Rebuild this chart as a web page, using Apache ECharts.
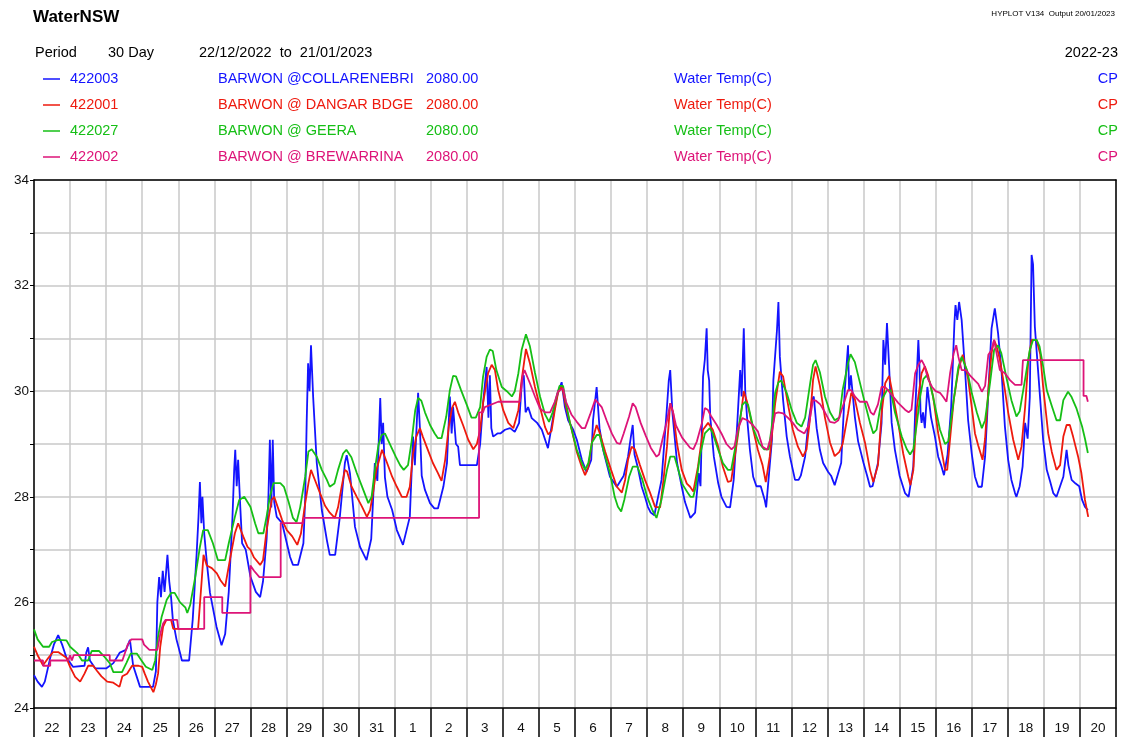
<!DOCTYPE html>
<html>
<head>
<meta charset="utf-8">
<script src="https://cdn.jsdelivr.net/npm/echarts@6/dist/echarts.min.js"></script>
<style>
html,body{margin:0;padding:0;background:#fff;}
#chart{width:1130px;height:737px;}
</style>
</head>
<body>
<div id="chart"></div>
<script>
// ---------- DATA ----------
// x = days since 22/12/2022 00:00, y = water temperature (C)
const dayLabels = ['22','23','24','25','26','27','28','29','30','31','1','2','3','4','5','6','7','8','9','10','11','12','13','14','15','16','17','18','19','20'];
const yTickLabels = [24, 26, 28, 30, 32, 34];

const stationCodes = ['422003', '422001', '422027', '422002'];
const stationNames = ['BARWON @COLLARENEBRI', 'BARWON @ DANGAR BDGE', 'BARWON @ GEERA', 'BARWON @ BREWARRINA'];
const stationDatum = ['2080.00', '2080.00', '2080.00', '2080.00'];
const stationVar = ['Water Temp(C)', 'Water Temp(C)', 'Water Temp(C)', 'Water Temp(C)'];
const stationQual = ['CP', 'CP', 'CP', 'CP'];

const collarenebri = [[0,24.62],[0.1,24.5],[0.22,24.4],[0.3,24.5],[0.45,24.95],[0.55,25.2],[0.67,25.38],[0.78,25.2],[0.9,24.95],[1.08,24.78],[1.4,24.8],[1.45,25.05],[1.5,25.15],[1.55,24.9],[1.7,24.75],[2.0,24.75],[2.2,24.85],[2.38,25.05],[2.55,25.1],[2.66,25.29],[2.75,24.8],[2.94,24.4],[3.3,24.4],[3.38,24.7],[3.42,26.0],[3.47,26.48],[3.52,26.1],[3.57,26.6],[3.62,26.2],[3.7,26.9],[3.75,26.4],[3.8,26.1],[3.85,25.67],[3.95,25.3],[4.05,25.04],[4.1,24.9],[4.3,24.9],[4.4,25.67],[4.51,26.93],[4.56,27.6],[4.6,28.28],[4.64,27.5],[4.67,28.0],[4.72,27.3],[4.8,26.7],[4.88,26.18],[5.06,25.54],[5.2,25.19],[5.3,25.4],[5.4,26.2],[5.5,27.56],[5.55,28.5],[5.58,28.89],[5.62,28.2],[5.66,28.7],[5.72,27.8],[5.77,27.12],[5.87,27.0],[6.0,26.49],[6.15,26.2],[6.27,26.1],[6.35,26.4],[6.45,27.2],[6.5,28.0],[6.54,29.08],[6.58,27.8],[6.62,29.08],[6.66,27.9],[6.73,27.62],[6.88,27.5],[7.1,26.86],[7.18,26.71],[7.32,26.71],[7.47,27.12],[7.52,28.0],[7.56,29.4],[7.6,30.53],[7.64,30.0],[7.68,30.87],[7.74,29.89],[7.84,28.64],[7.98,27.75],[8.12,27.18],[8.2,26.9],[8.35,26.9],[8.48,27.62],[8.62,28.64],[8.67,28.79],[8.76,28.45],[8.9,27.43],[9.04,27.05],[9.22,26.8],[9.35,27.2],[9.45,28.64],[9.52,28.3],[9.6,29.87],[9.64,29.0],[9.68,29.4],[9.73,28.37],[9.8,28.0],[9.93,27.75],[10.06,27.37],[10.23,27.09],[10.42,27.62],[10.51,29.14],[10.56,28.6],[10.65,29.97],[10.7,29.3],[10.75,28.4],[10.84,28.13],[10.98,27.88],[11.1,27.78],[11.2,27.78],[11.35,28.19],[11.45,28.64],[11.53,29.9],[11.58,29.2],[11.62,29.7],[11.7,29.0],[11.76,28.95],[11.81,28.6],[12.28,28.6],[12.37,29.0],[12.45,29.77],[12.55,30.46],[12.6,29.5],[12.64,30.3],[12.68,29.3],[12.73,29.14],[12.85,29.2],[12.93,29.2],[13.06,29.27],[13.2,29.3],[13.33,29.23],[13.45,29.4],[13.53,30.21],[13.58,30.3],[13.63,29.6],[13.7,29.7],[13.8,29.49],[13.95,29.4],[14.08,29.27],[14.25,28.92],[14.3,28.9],[14.44,29.7],[14.53,29.99],[14.63,30.17],[14.72,29.7],[14.81,29.45],[14.95,29.27],[15.05,29.08],[15.19,28.7],[15.32,28.47],[15.45,28.7],[15.5,29.45],[15.6,30.08],[15.68,29.3],[15.78,28.89],[15.97,28.38],[16.16,28.19],[16.35,28.4],[16.47,28.76],[16.55,29.14],[16.6,29.36],[16.65,28.8],[16.74,28.56],[16.85,28.19],[16.94,28.0],[17.02,27.81],[17.1,27.7],[17.2,27.65],[17.4,28.32],[17.55,29.7],[17.6,30.2],[17.64,30.4],[17.7,29.6],[17.83,28.64],[17.96,28.19],[18.05,27.9],[18.2,27.6],[18.33,27.7],[18.43,28.45],[18.48,28.2],[18.55,30.27],[18.6,30.6],[18.65,31.19],[18.68,30.4],[18.72,30.2],[18.75,29.51],[18.85,28.76],[18.97,28.26],[19.06,28.0],[19.2,27.81],[19.3,27.8],[19.4,28.32],[19.5,29.4],[19.58,30.4],[19.62,29.9],[19.68,31.19],[19.72,30.0],[19.77,29.51],[19.85,28.89],[19.94,28.38],[20.03,28.2],[20.15,28.2],[20.26,27.94],[20.3,27.8],[20.46,29.08],[20.5,30.21],[20.6,31.16],[20.64,31.69],[20.68,30.65],[20.77,29.83],[20.87,29.14],[20.96,28.76],[21.1,28.32],[21.2,28.32],[21.26,28.4],[21.38,28.76],[21.47,29.4],[21.57,29.83],[21.62,29.9],[21.7,29.3],[21.79,28.89],[21.88,28.64],[22.02,28.47],[22.1,28.4],[22.2,28.22],[22.25,28.2],[22.38,28.64],[22.48,30.02],[22.57,30.87],[22.6,30.0],[22.65,30.3],[22.76,29.51],[22.85,29.05],[23.0,28.64],[23.1,28.4],[23.18,28.19],[23.25,28.2],[23.4,28.64],[23.5,29.4],[23.55,30.97],[23.6,30.5],[23.65,31.29],[23.7,30.6],[23.78,29.4],[23.87,28.89],[24.0,28.4],[24.15,28.07],[24.25,28.0],[24.38,28.57],[24.43,29.58],[24.52,30.97],[24.55,30.5],[24.58,29.6],[24.61,29.4],[24.65,29.6],[24.7,29.3],[24.77,30.08],[24.87,29.51],[24.98,29.14],[25.07,28.76],[25.15,28.6],[25.23,28.41],[25.33,28.8],[25.43,29.7],[25.52,31.29],[25.55,31.63],[25.6,31.35],[25.65,31.69],[25.72,31.35],[25.82,30.34],[25.9,29.45],[26.0,28.82],[26.09,28.38],[26.18,28.19],[26.28,28.19],[26.37,28.76],[26.46,29.97],[26.55,31.19],[26.64,31.57],[26.73,31.1],[26.83,30.34],[26.92,29.33],[27.01,28.7],[27.1,28.32],[27.2,28.07],[27.24,28.0],[27.33,28.2],[27.41,28.57],[27.48,29.4],[27.55,29.1],[27.61,29.89],[27.66,32.58],[27.7,32.4],[27.75,31.22],[27.8,31.2],[27.9,29.83],[27.98,29.08],[28.08,28.51],[28.17,28.3],[28.26,28.07],[28.35,28.0],[28.45,28.2],[28.54,28.38],[28.63,28.89],[28.68,28.6],[28.77,28.32],[28.88,28.25],[28.98,28.2],[29.06,27.94],[29.14,27.81],[29.22,27.75]];

const dangarBdge = [[0,25.16],[0.1,25.0],[0.25,24.81],[0.4,24.95],[0.53,25.06],[0.67,25.06],[0.9,24.95],[1.0,24.78],[1.14,24.59],[1.28,24.5],[1.4,24.65],[1.5,24.8],[1.64,24.8],[1.75,24.7],[1.87,24.6],[2.03,24.5],[2.2,24.48],[2.37,24.4],[2.45,24.6],[2.58,24.65],[2.72,24.8],[2.9,24.8],[3.0,24.78],[3.07,24.65],[3.16,24.5],[3.31,24.3],[3.38,24.45],[3.44,24.65],[3.5,25.16],[3.58,25.54],[3.67,25.67],[3.8,25.67],[3.86,25.5],[4.55,25.5],[4.65,26.42],[4.7,26.9],[4.79,26.7],[4.93,26.65],[5.07,26.55],[5.17,26.42],[5.3,26.3],[5.43,26.8],[5.57,27.31],[5.66,27.5],[5.8,27.25],[5.92,27.05],[6.0,27.0],[6.1,26.85],[6.27,26.71],[6.35,26.8],[6.45,27.37],[6.59,27.94],[6.66,28.0],[6.76,27.8],[6.88,27.56],[7.01,27.37],[7.16,27.25],[7.3,27.09],[7.4,27.3],[7.52,27.88],[7.61,28.26],[7.68,28.51],[7.8,28.3],[7.93,28.07],[8.07,27.83],[8.2,27.7],[8.34,27.6],[8.43,27.8],[8.53,28.19],[8.62,28.51],[8.68,28.48],[8.8,28.2],[8.95,28.0],[9.09,27.82],[9.23,27.62],[9.32,27.75],[9.4,28.07],[9.49,28.5],[9.65,28.89],[9.79,28.64],[9.93,28.38],[10.06,28.19],[10.2,28.0],[10.33,28.0],[10.42,28.19],[10.51,28.82],[10.6,29.14],[10.7,29.3],[10.78,29.14],[10.92,28.89],[11.06,28.64],[11.2,28.45],[11.3,28.3],[11.4,28.7],[11.5,29.33],[11.59,29.68],[11.67,29.8],[11.76,29.6],[11.9,29.35],[12.04,29.08],[12.18,28.9],[12.28,29.0],[12.37,29.27],[12.45,29.77],[12.59,30.34],[12.69,30.5],[12.78,30.4],[12.87,30.02],[13.01,29.64],[13.15,29.4],[13.29,29.3],[13.43,29.64],[13.52,30.21],[13.64,30.8],[13.75,30.53],[13.89,30.08],[14.03,29.7],[14.17,29.32],[14.26,29.18],[14.35,29.25],[14.44,29.64],[14.53,29.97],[14.64,30.1],[14.75,29.7],[14.91,29.27],[15.05,28.85],[15.19,28.56],[15.28,28.41],[15.37,28.56],[15.47,29.04],[15.6,29.36],[15.69,29.2],[15.84,28.85],[16.0,28.51],[16.16,28.19],[16.3,28.08],[16.39,28.32],[16.47,28.7],[16.57,28.95],[16.66,28.9],[16.8,28.6],[16.94,28.32],[17.08,28.08],[17.22,27.81],[17.36,27.8],[17.45,28.3],[17.55,28.95],[17.64,29.77],[17.72,29.6],[17.83,29.0],[17.96,28.51],[18.1,28.25],[18.19,28.19],[18.28,28.1],[18.41,28.57],[18.55,29.27],[18.69,29.4],[18.82,29.27],[18.97,28.95],[19.1,28.57],[19.24,28.28],[19.33,28.3],[19.5,29.08],[19.64,29.77],[19.68,30.0],[19.77,29.8],[19.93,29.3],[20.07,28.89],[20.2,28.6],[20.29,28.28],[20.4,28.76],[20.55,29.77],[20.68,30.37],[20.77,30.28],[20.9,29.77],[21.04,29.27],[21.18,28.95],[21.32,28.76],[21.42,28.9],[21.52,29.51],[21.6,30.21],[21.67,30.47],[21.79,30.1],[21.93,29.5],[22.07,29.03],[22.2,28.77],[22.33,28.85],[22.42,29.0],[22.57,29.58],[22.66,29.97],[22.76,29.85],[22.9,29.4],[23.04,29.03],[23.18,28.51],[23.27,28.28],[23.4,28.6],[23.5,29.57],[23.6,30.15],[23.71,30.29],[23.82,29.9],[23.96,29.4],[24.1,28.82],[24.24,28.38],[24.3,28.22],[24.38,28.5],[24.48,29.7],[24.61,30.34],[24.7,30.47],[24.79,30.3],[24.93,29.9],[25.07,29.2],[25.17,28.85],[25.26,28.51],[25.32,28.51],[25.4,29.1],[25.5,29.83],[25.63,30.4],[25.75,30.69],[25.8,30.69],[25.9,30.23],[26.0,29.7],[26.09,29.2],[26.18,28.97],[26.3,28.7],[26.37,29.1],[26.46,30.02],[26.55,30.72],[26.62,30.97],[26.69,30.85],[26.78,30.6],[26.92,30.02],[27.01,29.6],[27.15,29.08],[27.29,28.7],[27.38,28.95],[27.48,29.7],[27.57,30.59],[27.66,30.97],[27.8,30.97],[27.9,30.7],[27.98,30.08],[28.12,29.2],[28.22,28.85],[28.35,28.51],[28.45,28.6],[28.54,29.14],[28.63,29.36],[28.72,29.36],[28.81,29.14],[28.95,28.76],[29.04,28.45],[29.14,27.94],[29.23,27.62]];

const geera = [[0,25.49],[0.1,25.3],[0.25,25.16],[0.42,25.16],[0.5,25.25],[0.67,25.29],[0.9,25.28],[1.0,25.16],[1.2,25.04],[1.33,24.9],[1.5,24.9],[1.6,25.08],[1.8,25.08],[1.94,24.98],[2.1,24.85],[2.2,24.68],[2.44,24.68],[2.56,24.85],[2.68,25.03],[2.85,25.03],[2.98,24.9],[3.1,24.78],[3.28,24.72],[3.36,24.9],[3.44,25.35],[3.54,25.73],[3.68,26.05],[3.8,26.18],[3.9,26.18],[4.05,26.0],[4.2,25.9],[4.25,25.8],[4.33,25.95],[4.47,26.48],[4.6,27.05],[4.69,27.37],[4.82,27.37],[4.96,27.12],[5.1,26.8],[5.3,26.8],[5.4,27.12],[5.57,27.62],[5.69,27.94],[5.83,28.0],[6.0,27.81],[6.13,27.5],[6.22,27.31],[6.36,27.31],[6.45,27.63],[6.54,28.0],[6.64,28.26],[6.83,28.26],[6.93,28.19],[7.06,27.9],[7.18,27.6],[7.28,27.52],[7.38,27.8],[7.52,28.38],[7.61,28.86],[7.7,28.9],[7.84,28.76],[7.98,28.51],[8.12,28.32],[8.2,28.19],[8.33,28.25],[8.43,28.51],[8.57,28.82],[8.66,28.89],[8.8,28.75],[8.95,28.45],[9.13,28.13],[9.27,27.88],[9.36,28.0],[9.45,28.51],[9.55,28.98],[9.64,29.17],[9.73,29.2],[9.9,28.95],[10.03,28.76],[10.15,28.6],[10.25,28.51],[10.37,28.6],[10.47,29.05],[10.57,29.64],[10.65,29.87],[10.74,29.82],[10.84,29.6],[10.98,29.36],[11.11,29.2],[11.2,29.11],[11.3,29.11],[11.43,29.52],[11.53,30.02],[11.62,30.29],[11.7,30.28],[11.84,30.02],[12.0,29.74],[12.13,29.5],[12.25,29.5],[12.37,29.7],[12.45,30.27],[12.55,30.65],[12.64,30.79],[12.72,30.76],[12.82,30.4],[12.97,30.08],[13.11,30.0],[13.25,29.9],[13.33,30.0],[13.43,30.34],[13.52,30.78],[13.64,31.08],[13.75,30.85],[13.89,30.35],[14.03,29.9],[14.17,29.56],[14.28,29.42],[14.38,29.6],[14.49,29.9],[14.57,30.1],[14.67,30.1],[14.75,29.78],[14.86,29.4],[15.05,28.89],[15.19,28.64],[15.28,28.51],[15.37,28.64],[15.47,29.03],[15.6,29.17],[15.68,29.17],[15.8,28.85],[15.97,28.45],[16.1,28.0],[16.19,27.81],[16.28,27.72],[16.37,27.95],[16.5,28.38],[16.6,28.57],[16.73,28.57],[16.87,28.32],[17.0,28.0],[17.15,27.74],[17.26,27.6],[17.4,27.95],[17.55,28.51],[17.64,28.76],[17.76,28.76],[17.84,28.57],[17.97,28.25],[18.13,28.07],[18.2,28.0],[18.28,28.0],[18.35,28.2],[18.46,28.76],[18.6,29.2],[18.74,29.3],[18.82,29.2],[18.97,28.89],[19.1,28.64],[19.24,28.51],[19.33,28.51],[19.5,29.15],[19.64,29.74],[19.72,29.8],[19.8,29.74],[19.95,29.28],[20.1,29.02],[20.24,28.9],[20.37,28.9],[20.45,29.3],[20.55,29.97],[20.64,30.17],[20.72,30.2],[20.87,29.97],[21.01,29.64],[21.15,29.4],[21.28,29.33],[21.38,29.5],[21.52,30.15],[21.6,30.5],[21.67,30.59],[21.79,30.36],[21.93,29.9],[22.07,29.6],[22.2,29.45],[22.33,29.5],[22.42,30.02],[22.57,30.53],[22.64,30.7],[22.76,30.55],[22.85,30.3],[23.04,29.77],[23.18,29.4],[23.27,29.2],[23.36,29.27],[23.5,29.83],[23.65,30.02],[23.75,30.02],[23.87,29.6],[24.06,29.14],[24.2,28.9],[24.29,28.8],[24.38,28.9],[24.48,29.4],[24.57,29.9],[24.66,30.23],[24.75,30.3],[24.84,30.17],[24.98,29.72],[25.12,29.27],[25.26,29.0],[25.35,29.05],[25.5,29.83],[25.63,30.46],[25.72,30.65],[25.87,30.4],[26.0,29.97],[26.14,29.6],[26.28,29.3],[26.37,29.45],[26.51,30.17],[26.62,30.78],[26.73,30.87],[26.82,30.72],[26.97,30.23],[27.1,29.83],[27.24,29.52],[27.33,29.62],[27.48,30.23],[27.61,30.78],[27.7,30.97],[27.8,30.97],[27.88,30.85],[27.98,30.47],[28.08,30.02],[28.22,29.72],[28.35,29.45],[28.45,29.45],[28.54,29.83],[28.67,29.99],[28.76,29.9],[28.9,29.68],[29.06,29.33],[29.14,29.1],[29.22,28.83]];

const brewarrina = [[0,24.9],[0.25,24.9],[0.25,24.8],[0.45,24.8],[0.45,24.9],[0.95,24.9],[1.0,25.0],[1.05,24.9],[1.1,25.0],[2.1,25.0],[2.1,24.9],[2.45,24.9],[2.55,25.1],[2.6,25.2],[2.7,25.3],[3.0,25.3],[3.05,25.2],[3.2,25.1],[3.42,25.1],[3.5,25.4],[3.58,25.6],[3.65,25.67],[3.97,25.67],[4.0,25.5],[4.72,25.5],[4.72,26.1],[5.22,26.1],[5.22,25.8],[6.0,25.8],[6.0,26.7],[6.1,26.6],[6.25,26.48],[6.84,26.48],[6.84,27.5],[7.47,27.5],[7.47,27.6],[12.34,27.6],[12.34,29.6],[12.45,29.6],[12.5,29.7],[12.87,29.8],[13.47,29.8],[13.55,30.3],[13.6,30.4],[13.75,30.15],[13.89,29.9],[14.03,29.67],[14.17,29.6],[14.31,29.6],[14.44,29.8],[14.53,30.0],[14.67,30.05],[14.75,29.8],[14.9,29.56],[15.05,29.42],[15.19,29.3],[15.28,29.3],[15.42,29.56],[15.56,29.84],[15.6,29.87],[15.74,29.7],[15.88,29.44],[16.02,29.2],[16.16,29.02],[16.25,29.0],[16.35,29.2],[16.5,29.52],[16.6,29.77],[16.68,29.7],[16.82,29.4],[16.96,29.16],[17.1,28.93],[17.26,28.76],[17.33,28.8],[17.43,29.1],[17.55,29.44],[17.64,29.77],[17.72,29.6],[17.8,29.35],[17.97,29.12],[18.19,28.93],[18.28,28.9],[18.38,29.05],[18.52,29.4],[18.6,29.68],[18.68,29.65],[18.77,29.53],[18.93,29.36],[19.06,29.2],[19.2,29.0],[19.34,28.9],[19.42,28.95],[19.52,29.3],[19.64,29.49],[19.78,29.45],[19.93,29.36],[20.07,29.24],[20.2,28.95],[20.33,28.89],[20.42,29.1],[20.55,29.58],[20.64,29.6],[20.77,29.58],[20.9,29.5],[21.04,29.4],[21.18,29.27],[21.36,29.2],[21.48,29.35],[21.6,29.83],[21.68,29.82],[21.8,29.75],[21.93,29.6],[22.07,29.42],[22.2,29.4],[22.3,29.45],[22.48,29.83],[22.57,30.02],[22.66,30.02],[22.76,29.9],[22.9,29.8],[23.09,29.8],[23.2,29.6],[23.28,29.55],[23.4,29.75],[23.5,30.08],[23.6,30.08],[23.7,30.0],[23.82,29.9],[23.96,29.78],[24.15,29.65],[24.25,29.6],[24.33,29.65],[24.43,30.34],[24.52,30.5],[24.61,30.59],[24.68,30.5],[24.79,30.23],[24.9,30.08],[25.0,30.0],[25.12,29.97],[25.2,29.9],[25.3,29.8],[25.4,30.34],[25.5,30.72],[25.57,30.87],[25.63,30.65],[25.72,30.4],[25.84,30.4],[25.95,30.3],[26.09,30.2],[26.18,30.14],[26.28,29.99],[26.37,30.1],[26.46,30.69],[26.55,30.78],[26.62,30.97],[26.68,30.75],[26.78,30.4],[26.92,30.34],[27.06,30.21],[27.2,30.12],[27.38,30.12],[27.42,30.59],[29.1,30.59],[29.1,29.91],[29.18,29.91],[29.22,29.8]];

const seriesData = [collarenebri, dangarBdge, geera, brewarrina];
const seriesColors = ['#1414ff', '#ee1a0e', '#16bf16', '#dd1478'];

// ---------- CHART ----------
const FONT = '"Liberation Sans", Arial, sans-serif';
const chart = echarts.init(document.getElementById('chart'), null, {renderer: 'canvas'});

const graphics = [];
function txt(t, x, y, color, size, align, weight) {
  graphics.push({
    type: 'text', silent: true,
    style: {
      text: t, x: x, y: y, fill: color,
      font: (weight || 'normal') + ' ' + size + 'px ' + FONT,
      textAlign: align || 'left', textVerticalAlign: 'middle',
      align: align || 'left', verticalAlign: 'middle'
    }
  });
}
txt('WaterNSW', 33, 17, '#000', 17, 'left', 'bold');
txt('HYPLOT V134  Output 20/01/2023', 1115, 14, '#000', 8, 'right');
txt('Period', 35, 53, '#000', 14.5, 'left');
txt('30 Day', 108, 53, '#000', 14.5, 'left');
txt('22/12/2022  to  21/01/2023', 199, 53, '#000', 14.5, 'left');
txt('2022-23', 1118, 53, '#000', 14.5, 'right');
const rowY = [79, 105, 131, 157];
for (let i = 0; i < 4; i++) {
  const c = seriesColors[i];
  graphics.push({type: 'line', silent: true,
    shape: {x1: 43, y1: rowY[i], x2: 60, y2: rowY[i]},
    style: {stroke: c, lineWidth: 1.5}});
  txt(stationCodes[i], 70, rowY[i], c, 14.5, 'left');
  txt(stationNames[i], 218, rowY[i], c, 14.5, 'left');
  txt(stationDatum[i], 426, rowY[i], c, 14.5, 'left');
  txt(stationVar[i], 674, rowY[i], c, 14.5, 'left');
  txt(stationQual[i], 1118, rowY[i], c, 14.5, 'right');
}

const gridColor = '#c8c8c8';
const frameLine = {show: true, onZero: false, lineStyle: {color: '#000', width: 1.5}};
const option = {
  animation: false,
  backgroundColor: '#fff',
  grid: {left: 34, right: 14, top: 180, bottom: 29, show: false},
  graphic: graphics,
  xAxis: [
    {
      type: 'value', min: 0, max: 30, interval: 1, position: 'bottom', z: 1,
      axisLine: frameLine,
      axisTick: {show: false}, axisLabel: {show: false},
      splitLine: {show: true, lineStyle: {color: gridColor, width: 1.5}}
    },
    {
      type: 'category', data: dayLabels, boundaryGap: true, position: 'bottom', z: 6,
      axisLine: {show: false, onZero: false},
      axisTick: {show: true, length: 32, interval: 0, lineStyle: {color: '#000', width: 1.5}},
      axisLabel: {show: true, interval: 0, margin: 13, fontSize: 13.5, color: '#111', fontFamily: FONT},
      splitLine: {show: false}
    },
    {
      type: 'value', min: 0, max: 30, position: 'top', z: 6,
      axisLine: frameLine, axisTick: {show: false}, axisLabel: {show: false}, splitLine: {show: false}
    }
  ],
  yAxis: [
    {
      type: 'value', min: 24, max: 34, interval: 1, position: 'left', z: 1,
      axisLine: frameLine,
      axisTick: {show: true, length: 4, lineStyle: {color: '#000', width: 1}},
      axisLabel: {
        margin: 5, fontSize: 13.5, color: '#111', fontFamily: FONT,
        formatter: function (v) { return yTickLabels.indexOf(v) >= 0 ? String(v) : ''; }
      },
      splitLine: {show: true, lineStyle: {color: gridColor, width: 1.5}}
    },
    {
      type: 'value', min: 24, max: 34, position: 'right', z: 6,
      axisLine: frameLine, axisTick: {show: false}, axisLabel: {show: false}, splitLine: {show: false}
    }
  ],
  series: seriesData.map(function (d, i) {
    return {
      name: stationCodes[i], type: 'line', xAxisIndex: 0, yAxisIndex: 0, data: d,
      showSymbol: false, symbol: 'none', smooth: false,
      lineStyle: {color: seriesColors[i], width: 1.8},
      itemStyle: {color: seriesColors[i]},
      z: 2 + i
    };
  })
};
chart.setOption(option);
</script>
</body>
</html>
